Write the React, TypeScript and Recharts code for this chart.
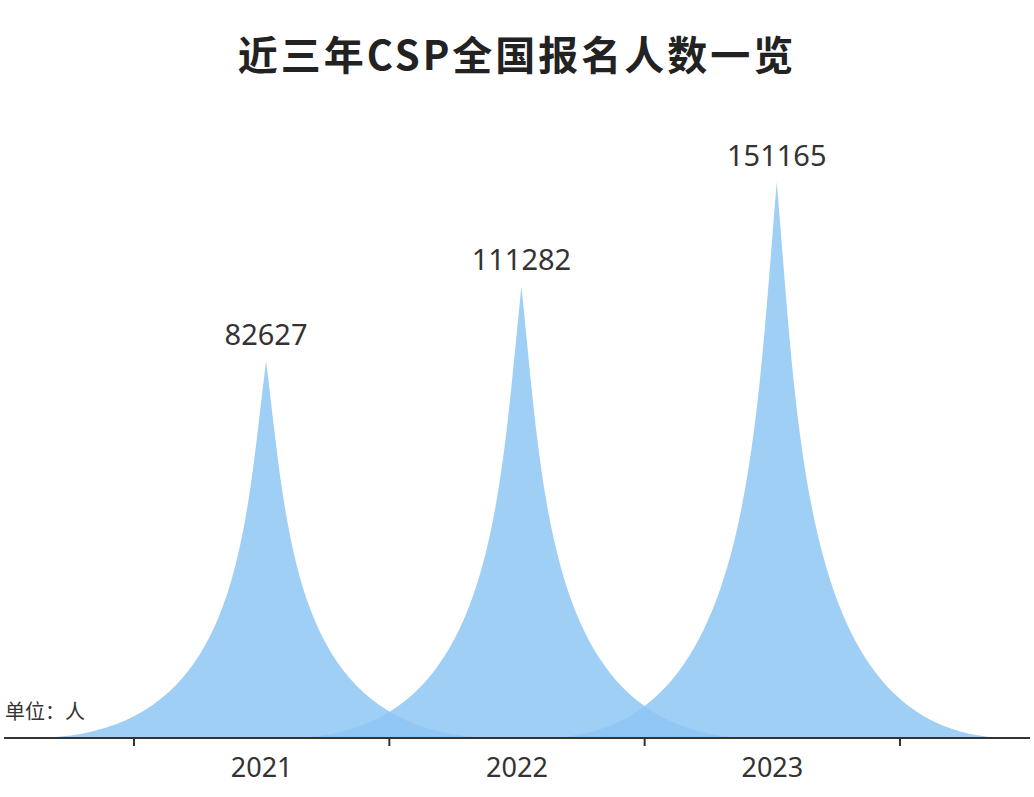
import React from 'react';
import { BarChart, Bar, XAxis, YAxis, LabelList } from 'recharts';

const years = ['2021', '2022', '2023'];
const counts = [82627, 111282, 151165];
const yDomain = [-61700, 160000];

const data = years.map((y, i) => ({ year: y, count: counts[i] }));

const FONT = '"Noto Sans CJK SC", "Noto Sans", sans-serif';
const NUMFONT = '"Noto Sans", "Noto Sans CJK SC", sans-serif';
const SPREAD = 1.84;
const SHIFT = 0.018;

const Spike = (props: any) => {
  const { x, y, width, height, background } = props;
  const base = background ? background.y + background.height : y + height;
  const cx = x + width / 2 + width * SHIFT;
  const W = width * SPREAD;
  const H = base - y;
  const px = (u: number) => cx + ((u - 5) / 10) * W;
  const py = (v: number) => y + (v / 10) * H;
  const d = `M${px(0)},${py(10)} L${px(10)},${py(10)} C${px(5.6)},${py(10)} ${px(5.5)},${py(5)} ${px(5)},${py(0)} C${px(4.5)},${py(5)} ${px(4.4)},${py(10)} ${px(0)},${py(10)} Z`;
  return <path d={d} fill="rgb(142,198,244)" fillOpacity={0.84} />;
};

const PeakLabel = (props: any) => {
  const { x, y, width, value } = props;
  const cx = x + width / 2 + width * SHIFT;
  return (
    <text x={cx} y={y - 16} textAnchor="middle" fill="#333" fontSize={29} fontFamily={NUMFONT}>
      {value}
    </text>
  );
};

const YearTick = (props: any) => {
  const { x, y, payload, index, visibleTicksCount } = props;
  const off = payload && payload.offset ? payload.offset : 127.7;
  const last = index === (visibleTicksCount ?? years.length) - 1;
  return (
    <g>
      <line x1={x - off} x2={x - off} y1={y} y2={y + 8} stroke="#333" strokeWidth={2} />
      {last && <line x1={x + off} x2={x + off} y1={y} y2={y + 8} stroke="#333" strokeWidth={2} />}
      <text x={x} y={y + 39} textAnchor="middle" fill="#333" fontSize={27} fontFamily={NUMFONT}>
        {payload.value}
      </text>
    </g>
  );
};

export default function App() {
  return (
    <div style={{ position: 'absolute', left: 0, top: 0, width: 1034, height: 797, background: '#fff' }}>
      <div
        style={{
          position: 'absolute',
          left: 0,
          top: 25,
          width: 1034,
          textAlign: 'center',
          fontFamily: FONT,
          fontWeight: 700,
          fontSize: 40,
          letterSpacing: 3,
          color: '#222',
          lineHeight: '56px',
        }}
      >
        近三年CSP全国报名人数一览
      </div>
      <div
        style={{
          position: 'absolute',
          left: 5,
          top: 698,
          fontFamily: FONT,
          fontSize: 20,
          color: '#333',
          lineHeight: '26px',
        }}
      >
        单位：人
      </div>
      <BarChart
        width={1034}
        height={797}
        data={data}
        margin={{ top: 159, right: 4, bottom: 0, left: 4 }}
        barCategoryGap="0%"
        style={{ position: 'absolute', left: 0, top: 0 }}
      >
        <XAxis
          dataKey="year"
          height={59}
          padding={{ left: 130, right: 130 }}
          axisLine={{ stroke: '#333', strokeWidth: 2 }}
          tickLine={false}
          tickSize={0}
          tickMargin={0}
          tick={<YearTick />}
          interval={0}
        />
        <YAxis hide type="number" domain={yDomain} allowDataOverflow />
        <Bar dataKey="count" shape={<Spike />} isAnimationActive={false}>
          <LabelList dataKey="count" content={<PeakLabel />} />
        </Bar>
      </BarChart>
    </div>
  );
}
